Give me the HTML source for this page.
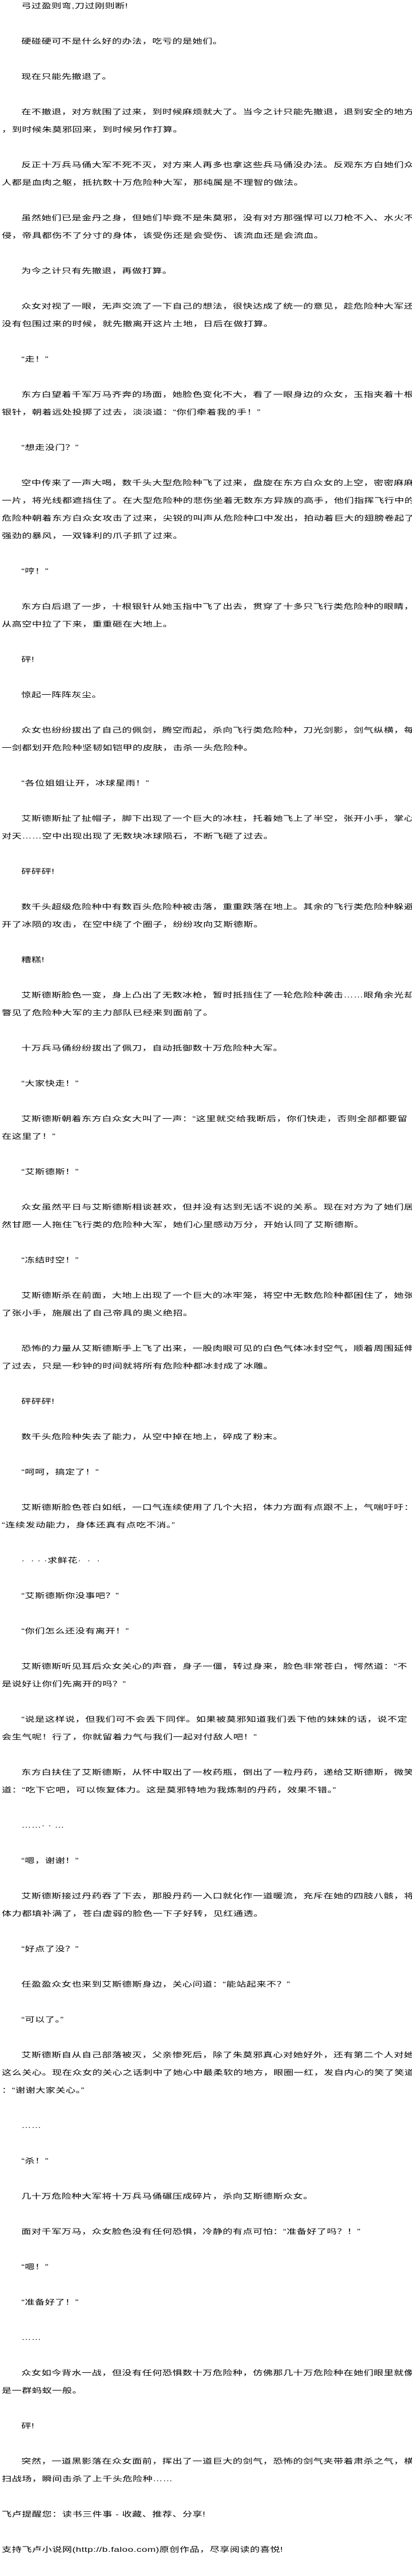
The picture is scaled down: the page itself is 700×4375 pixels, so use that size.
<!DOCTYPE html>
<html><head><meta charset="utf-8">
<style>
html,body{margin:0;padding:0;background:#fff;}
body{width:700px;height:4370px;overflow:hidden;position:relative;}
#c{position:absolute;left:2.6px;top:-5px;width:505px;transform:scaleX(1.386);transform-origin:0 0;
font-family:"Liberation Sans","WenQuanYi Zen Hei","Noto Sans CJK SC",sans-serif;font-size:12px;letter-spacing:0.34px;line-height:30px;color:#000;}
#c p{margin:0 0 30px 0;white-space:nowrap;text-indent:24px;}
#c p.n{text-indent:0;}
</style></head><body>
<div id="c">
<p>弓过盈则弯,刀过刚则断!</p>
<p>硬碰硬可不是什么好的办法，吃亏的是她们。</p>
<p>现在只能先撤退了。</p>
<p>在不撤退，对方就围了过来，到时候麻烦就大了。当今之计只能先撤退，退到安全的地方<br>，到时候朱莫邪回来，到时候另作打算。</p>
<p>反正十万兵马俑大军不死不灭，对方来人再多也拿这些兵马俑没办法。反观东方白她们众<br>人都是血肉之躯，抵抗数十万危险种大军，那纯属是不理智的做法。</p>
<p>虽然她们已是金丹之身，但她们毕竟不是朱莫邪，没有对方那强悍可以刀枪不入、水火不<br>侵，帝具都伤不了分寸的身体，该受伤还是会受伤、该流血还是会流血。</p>
<p>为今之计只有先撤退，再做打算。</p>
<p>众女对视了一眼，无声交流了一下自己的想法，很快达成了统一的意见，趁危险种大军还<br>没有包围过来的时候，就先撤离开这片土地，日后在做打算。</p>
<p>“走！”</p>
<p>东方白望着千军万马齐奔的场面，她脸色变化不大，看了一眼身边的众女，玉指夹着十根<br>银针，朝着远处投掷了过去，淡淡道：“你们牵着我的手！”</p>
<p>“想走没门？”</p>
<p>空中传来了一声大喝，数千头大型危险种飞了过来，盘旋在东方白众女的上空，密密麻麻<br>一片，将光线都遮挡住了。在大型危险种的悲伤坐着无数东方异族的高手，他们指挥飞行中的<br>危险种朝着东方白众女攻击了过来，尖锐的叫声从危险种口中发出，拍动着巨大的翅膀卷起了<br>强劲的暴风，一双锋利的爪子抓了过来。</p>
<p>“哼！”</p>
<p>东方白后退了一步，十根银针从她玉指中飞了出去，贯穿了十多只飞行类危险种的眼睛，<br>从高空中拉了下来，重重砸在大地上。</p>
<p>砰!</p>
<p>惊起一阵阵灰尘。</p>
<p>众女也纷纷拔出了自己的佩剑，腾空而起，杀向飞行类危险种，刀光剑影，剑气纵横，每<br>一剑都划开危险种坚韧如铠甲的皮肤，击杀一头危险种。</p>
<p>“各位姐姐让开，冰球星雨！”</p>
<p>艾斯德斯扯了扯帽子，脚下出现了一个巨大的冰柱，托着她飞上了半空，张开小手，掌心<br>对天……空中出现出现了无数块冰球陨石，不断飞砸了过去。</p>
<p>砰砰砰!</p>
<p>数千头超级危险种中有数百头危险种被击落，重重跌落在地上。其余的飞行类危险种躲避<br>开了冰陨的攻击，在空中绕了个圈子，纷纷攻向艾斯德斯。</p>
<p>糟糕!</p>
<p>艾斯德斯脸色一变，身上凸出了无数冰枪，暂时抵挡住了一轮危险种袭击……眼角余光却<br>瞥见了危险种大军的主力部队已经来到面前了。</p>
<p>十万兵马俑纷纷拔出了佩刀，自动抵御数十万危险种大军。</p>
<p>“大家快走！”</p>
<p>艾斯德斯朝着东方白众女大叫了一声：“这里就交给我断后，你们快走，否则全部都要留<br>在这里了！”</p>
<p>“艾斯德斯！”</p>
<p>众女虽然平日与艾斯德斯相谈甚欢，但并没有达到无话不说的关系。现在对方为了她们居<br>然甘愿一人拖住飞行类的危险种大军，她们心里感动万分，开始认同了艾斯德斯。</p>
<p>“冻结时空！”</p>
<p>艾斯德斯杀在前面，大地上出现了一个巨大的冰牢笼，将空中无数危险种都困住了，她张<br>了张小手，施展出了自己帝具的奥义绝招。</p>
<p>恐怖的力量从艾斯德斯手上飞了出来，一股肉眼可见的白色气体冰封空气，顺着周围延伸<br>了过去，只是一秒钟的时间就将所有危险种都冰封成了冰雕。</p>
<p>砰砰砰!</p>
<p>数千头危险种失去了能力，从空中掉在地上，碎成了粉末。</p>
<p>“呵呵，搞定了！”</p>
<p>艾斯德斯脸色苍白如纸，一口气连续使用了几个大招，体力方面有点跟不上，气喘吁吁：<br>“连续发动能力，身体还真有点吃不消。”</p>
<p>·&nbsp;&nbsp;·&nbsp;·&nbsp;·求鲜花·&nbsp;&nbsp;·&nbsp;&nbsp;·</p>
<p>“艾斯德斯你没事吧？”</p>
<p>“你们怎么还没有离开！”</p>
<p>艾斯德斯听见耳后众女关心的声音，身子一僵，转过身来，脸色非常苍白，愕然道：“不<br>是说好让你们先离开的吗？”</p>
<p>“说是这样说，但我们可不会丢下同伴。如果被莫邪知道我们丢下他的妹妹的话，说不定<br>会生气呢！行了，你就留着力气与我们一起对付敌人吧！”</p>
<p>东方白扶住了艾斯德斯，从怀中取出了一枚药瓶，倒出了一粒丹药，递给艾斯德斯，微笑<br>道：“吃下它吧，可以恢复体力。这是莫邪特地为我炼制的丹药，效果不错。”</p>
<p>……·&nbsp;·&nbsp;…</p>
<p>“嗯，谢谢！”</p>
<p>艾斯德斯接过丹药吞了下去，那股丹药一入口就化作一道暖流，充斥在她的四肢八骸，将<br>体力都填补满了，苍白虚弱的脸色一下子好转，见红通透。</p>
<p>“好点了没？”</p>
<p>任盈盈众女也来到艾斯德斯身边，关心问道：“能站起来不？”</p>
<p>“可以了。”</p>
<p>艾斯德斯自从自己部落被灭，父亲惨死后，除了朱莫邪真心对她好外，还有第二个人对她<br>这么关心。现在众女的关心之话刺中了她心中最柔软的地方，眼圈一红，发自内心的笑了笑道<br>：“谢谢大家关心。”</p>
<p>……</p>
<p>“杀！”</p>
<p>几十万危险种大军将十万兵马俑碾压成碎片，杀向艾斯德斯众女。</p>
<p>面对千军万马，众女脸色没有任何恐惧，冷静的有点可怕：“准备好了吗？！”</p>
<p>“嗯！”</p>
<p>“准备好了！”</p>
<p>……</p>
<p>众女如今背水一战，但没有任何恐惧数十万危险种，仿佛那几十万危险种在她们眼里就像<br>是一群蚂蚁一般。</p>
<p>砰!</p>
<p>突然，一道黑影落在众女面前，挥出了一道巨大的剑气，恐怖的剑气夹带着肃杀之气，横<br>扫战场，瞬间击杀了上千头危险种……</p>
<p class="n">飞卢提醒您：读书三件事 - 收藏、推荐、分享!</p>
<p class="n">支持飞卢小说网(http://b.faloo.com)原创作品，尽享阅读的喜悦!</p>
</div>
</body></html>
